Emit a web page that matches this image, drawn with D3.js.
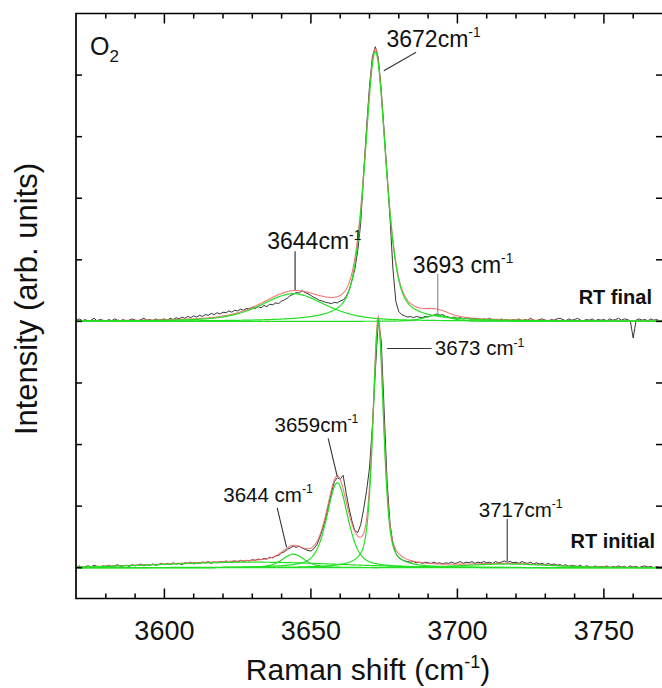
<!DOCTYPE html>
<html>
<head>
<meta charset="utf-8">
<script src="https://cdn.jsdelivr.net/npm/d3@7"></script>
<style>
  html, body { margin: 0; padding: 0; background: #fff; }
  svg { display: block; }
  text { font-family: "Liberation Sans", Arial, Helvetica, sans-serif; fill: #111; }
</style>
</head>
<body>
<svg id="chart" width="662" height="688"></svg>
<script>
// ---- Recorded spectra: one intensity per wavenumber, 3570 ... 3770 cm-1 ----
const shiftStart = 3570;
const shiftEnd = 3770;

// "RT final" spectrum (baseline-relative intensity, arb. units)
const finalCounts = [
  0.02, 0.04, 0.01, 0.03, 0.00, 0.02, 0.05, 0.01, 0.03, 0.02,
  0.00, 0.03, 0.01, 0.04, 0.02, 0.01, 0.03, 0.00, 0.02, 0.04,
  0.02, 0.01, 0.03, 0.05, 0.02, 0.03, 0.01, 0.04, 0.02, 0.03,
  0.04, 0.02, 0.05, 0.03, 0.06, 0.04, 0.07, 0.05, 0.08, 0.06,
  0.09, 0.07, 0.10, 0.08, 0.11, 0.10, 0.13, 0.11, 0.14, 0.12,
  0.15, 0.14, 0.17, 0.15, 0.18, 0.17, 0.20, 0.18, 0.21, 0.20,
  0.23, 0.21, 0.24, 0.22, 0.26, 0.24, 0.28, 0.27, 0.30, 0.29,
  0.33, 0.35, 0.38, 0.42, 0.44, 0.47, 0.46, 0.50, 0.47, 0.45,
  0.42, 0.39, 0.37, 0.34, 0.33, 0.31, 0.30, 0.29, 0.31, 0.30,
  0.33, 0.35, 0.40, 0.50, 0.66, 0.85, 1.15, 1.60, 2.40, 3.15,
  3.82, 4.30, 4.46, 4.28, 3.76, 3.08, 2.38, 1.68, 0.85, 0.32,
  0.16, 0.11, 0.09, 0.07, 0.08, 0.06, 0.08, 0.07, 0.06, 0.08,
  0.07, 0.09, 0.10, 0.12, 0.10, 0.11, 0.08, 0.07, 0.06, 0.07,
  0.05, 0.06, 0.04, 0.06, 0.05, 0.03, 0.05, 0.04, 0.02, 0.04,
  0.03, 0.05, 0.02, 0.03, 0.01, 0.04, 0.02, 0.03, 0.01, 0.03,
  0.02, 0.04, 0.01, 0.03, 0.02, 0.05, 0.02, 0.01, 0.03, 0.04,
  0.02, 0.00, 0.03, 0.02, 0.04, 0.05, 0.03, 0.01, 0.04, 0.02,
  0.03, 0.05, 0.02, 0.01, 0.03, 0.02, 0.04, 0.01, 0.03, 0.02,
  0.03, 0.01, 0.04, 0.02, 0.03, 0.05, 0.02, 0.04, 0.03, 0.01,
  -0.27, 0.02, 0.04, 0.02, 0.03, 0.01, 0.04, 0.02, 0.03, 0.01,
  0.02
];

// "RT initial" spectrum (baseline-relative intensity, arb. units)
const initialCounts = [
  0.01, 0.03, 0.00, 0.02, 0.03, 0.01, 0.04, 0.02, 0.01, 0.03,
  0.02, 0.04, 0.02, 0.03, 0.05, 0.02, 0.03, 0.04, 0.02, 0.05,
  0.03, 0.04, 0.06, 0.03, 0.05, 0.04, 0.06, 0.04, 0.05, 0.07,
  0.05, 0.07, 0.05, 0.08, 0.06, 0.07, 0.05, 0.08, 0.07, 0.09,
  0.06, 0.08, 0.07, 0.09, 0.08, 0.10, 0.07, 0.09, 0.08, 0.10,
  0.09, 0.11, 0.08, 0.10, 0.11, 0.09, 0.12, 0.10, 0.12, 0.11,
  0.13, 0.12, 0.14, 0.13, 0.15, 0.14, 0.17, 0.16, 0.19, 0.20,
  0.24, 0.26, 0.30, 0.32, 0.35, 0.33, 0.35, 0.32, 0.30, 0.28,
  0.27, 0.31, 0.37, 0.49, 0.63, 0.80, 1.01, 1.22, 1.40, 1.46,
  1.44, 1.50, 1.22, 0.97, 0.76, 0.60, 0.57, 0.70, 0.95, 1.25,
  1.62, 2.30, 3.20, 4.03, 3.68, 2.55, 1.40, 0.72, 0.38, 0.23,
  0.16, 0.13, 0.11, 0.10, 0.09, 0.10, 0.08, 0.09, 0.07, 0.09,
  0.08, 0.07, 0.09, 0.07, 0.08, 0.06, 0.08, 0.07, 0.09, 0.07,
  0.08, 0.10, 0.07, 0.09, 0.08, 0.10, 0.07, 0.09, 0.08, 0.10,
  0.08, 0.09, 0.07, 0.10, 0.08, 0.09, 0.11, 0.09, 0.10, 0.08,
  0.09, 0.07, 0.10, 0.08, 0.07, 0.09, 0.06, 0.08, 0.06, 0.07,
  0.05, 0.07, 0.05, 0.06, 0.04, 0.05, 0.03, 0.05, 0.02, 0.04,
  0.03, 0.02, 0.04, 0.01, 0.03, 0.02, 0.00, 0.03, 0.01, 0.02,
  0.01, 0.03, 0.00, 0.02, 0.01, 0.03, 0.01, 0.02, 0.00, 0.03,
  0.01, 0.02, 0.00, 0.02, 0.03, 0.01, 0.02, 0.00, 0.02, 0.01,
  0.02
];

// ---- Fitted pseudo-Voigt components ----
const finalCenters = [3672, 3644, 3693];
const finalHeights = [4.38, 0.45, 0.10];
const finalWidths  = [8.5, 26, 10];     // FWHM, cm-1
const finalMixing  = [0.5, 0.5, 0.5];   // Lorentzian fraction

const initialCenters = [3673, 3659, 3644, 3630, 3717];
const initialHeights = [3.98, 1.38, 0.22, 0.09, 0.06];
const initialWidths  = [4.3, 8.5, 9, 70, 35];
const initialMixing  = [0.5, 0.5, 0.5, 0, 0.3];

// vertical stacking of the two spectra
const stackOffset = { initial: 0, final: 4 };

// axis ticks
const xTickLabels = [3600, 3650, 3700, 3750];
const yTickValues = [0, 1, 2, 3, 4, 5, 6, 7, 8];

// ---- Layout ----
const W = 662, H = 688;
const plot = { left: 76, top: 13.5, right: 663, bottom: 598.5 };

const svg = d3.select("#chart");

const x = d3.scaleLinear().domain([shiftStart, shiftEnd]).range([76.5, 662.5]);
const y = d3.scaleLinear().domain([-0.5, 9]).range([plot.bottom, plot.top]);

svg.append("defs").append("clipPath").attr("id", "plotClip")
  .append("rect")
  .attr("x", plot.left).attr("y", plot.top)
  .attr("width", plot.right - plot.left).attr("height", plot.bottom - plot.top);

const shifts = d3.range(shiftStart, shiftEnd + 1);
const fineShifts = d3.range(shiftStart, shiftEnd + 0.001, 0.25);

function pseudoVoigt(v, c, h, w, eta) {
  const d = (v - c) / (w / 2);
  const lor = 1 / (1 + d * d);
  const gau = Math.exp(-Math.LN2 * d * d);
  return h * (eta * lor + (1 - eta) * gau);
}

const line = d3.line().x(d => x(d[0])).y(d => y(d[1]));

const layer = svg.append("g").attr("clip-path", "url(#plotClip)");

function drawSpectrum(counts, centers, heights, widths, mixing, offset) {
  // measured spectrum
  const measured = shifts.map((s, i) => [s, counts[i] + offset]);
  layer.append("path").attr("d", line(measured))
    .attr("fill", "none").attr("stroke", "#1e1e1e").attr("stroke-width", 0.9)
    .attr("stroke-linejoin", "round");

  // cumulative fit
  const total = fineShifts.map(s => [s, offset + d3.sum(centers, (c, k) =>
    pseudoVoigt(s, c, heights[k], widths[k], mixing[k]))]);
  layer.append("path").attr("d", line(total))
    .attr("fill", "none").attr("stroke", "#f26a6a").attr("stroke-width", 1.1)
    .attr("stroke-opacity", 0.9);

  // individual components
  centers.forEach((c, k) => {
    const comp = fineShifts.map(s => [s, offset + pseudoVoigt(s, c, heights[k], widths[k], mixing[k])]);
    layer.append("path").attr("d", line(comp))
      .attr("fill", "none").attr("stroke", "#22e022").attr("stroke-width", 1.2);
  });
}

drawSpectrum(initialCounts, initialCenters, initialHeights, initialWidths, initialMixing, stackOffset.initial);
drawSpectrum(finalCounts, finalCenters, finalHeights, finalWidths, finalMixing, stackOffset.final);

// ---- Frame and ticks (all ticks point inward) ----
const frame = svg.append("g").attr("stroke", "#000").attr("fill", "none");
frame.append("path")
  .attr("d", `M${plot.right},${plot.bottom}H${plot.left}V${plot.top}H${plot.right}V${plot.bottom}`)
  .attr("stroke-width", 1.7);

const minorTicks = d3.range(3580, 3770, 10);
minorTicks.forEach(t => {
  const major = t % 50 === 0;
  const len = major ? 10 : 5;
  frame.append("line").attr("x1", x(t)).attr("x2", x(t))
    .attr("y1", plot.bottom).attr("y2", plot.bottom - len).attr("stroke-width", 1.5);
  frame.append("line").attr("x1", x(t)).attr("x2", x(t))
    .attr("y1", plot.top).attr("y2", plot.top + len).attr("stroke-width", 1.5);
});
yTickValues.forEach(t => {
  frame.append("line").attr("x1", plot.left).attr("x2", plot.left + 6)
    .attr("y1", y(t)).attr("y2", y(t)).attr("stroke-width", 1.5);
  frame.append("line").attr("x1", plot.right).attr("x2", plot.right - 7)
    .attr("y1", y(t)).attr("y2", y(t)).attr("stroke-width", 1.5);
});

// tick labels
svg.append("g").selectAll("text").data(xTickLabels).join("text")
  .attr("x", d => x(d)).attr("y", 640)
  .attr("text-anchor", "middle").attr("font-size", 27)
  .text(d => d);

// axis titles
const xTitle = svg.append("text").attr("x", 368).attr("y", 680)
  .attr("text-anchor", "middle").attr("font-size", 30);
xTitle.append("tspan").text("Raman shift (cm");
xTitle.append("tspan").attr("font-size", 18).attr("dy", -12).text("-1");
xTitle.append("tspan").attr("dy", 12).text(")");

svg.append("text")
  .attr("transform", "translate(37,299) rotate(-90)")
  .attr("text-anchor", "middle").attr("font-size", 31)
  .text("Intensity (arb. units)");

// sample label
const o2 = svg.append("text").attr("x", 90).attr("y", 55).attr("font-size", 25);
o2.append("tspan").text("O");
o2.append("tspan").attr("font-size", 17).attr("dy", 7).text("2");

// spectrum names
svg.append("text").attr("x", 652).attr("y", 304).attr("text-anchor", "end")
  .attr("font-size", 20).attr("font-weight", "bold").text("RT final");
svg.append("text").attr("x", 655).attr("y", 548).attr("text-anchor", "end")
  .attr("font-size", 20).attr("font-weight", "bold").text("RT initial");

// ---- Peak annotations (text anchor and leader ends in data units) ----
const notes = [
  { text: "3672cm",  tx: 3675.8, ty: 8.46, a: [3674.9, 8.07], b: [3685.9, 8.37], size: 23, color: "#333" },
  { text: "3644cm",  tx: 3635.1, ty: 5.17, a: [3644.6, 4.51], b: [3644.6, 5.14], size: 23, color: "#222" },
  { text: "3693 cm", tx: 3684.8, ty: 4.79, a: [3693.3, 4.10], b: [3693.3, 4.77], size: 23, color: "#888" },
  { text: "3673 cm", tx: 3692.3, ty: 3.45, a: [3676.0, 3.56], b: [3691.2, 3.56], size: 20.5, color: "#333" },
  { text: "3659cm",  tx: 3637.6, ty: 2.21, a: [3659.0, 1.48], b: [3655.9, 2.10], size: 20.5, color: "#333" },
  { text: "3644 cm", tx: 3620.1, ty: 1.07, a: [3641.7, 0.33], b: [3638.5, 0.97], size: 20.5, color: "#333" },
  { text: "3717cm",  tx: 3707.3, ty: 0.83, a: [3717.0, 0.11], b: [3717.0, 0.79], size: 20.5, color: "#333" }
];

const noteG = svg.append("g");
notes.forEach(n => {
  noteG.append("line")
    .attr("x1", x(n.a[0])).attr("y1", y(n.a[1]))
    .attr("x2", x(n.b[0])).attr("y2", y(n.b[1]))
    .attr("stroke", n.color).attr("stroke-width", 1.1);
  const t = noteG.append("text").attr("x", x(n.tx)).attr("y", y(n.ty)).attr("font-size", n.size);
  t.append("tspan").text(n.text);
  t.append("tspan").attr("font-size", n.size * 0.6).attr("dy", -n.size * 0.42).text("-1");
});
</script>
</body>
</html>
